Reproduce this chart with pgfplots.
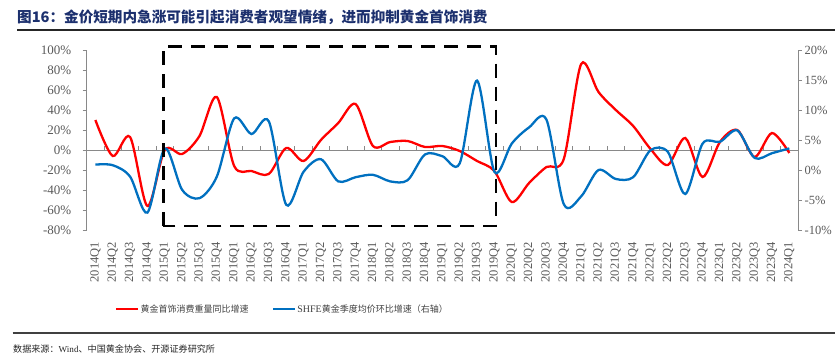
\documentclass[border=0pt]{standalone}
\usepackage{pgfplots}
\usepackage{pgfplotstable}
\pgfplotsset{compat=1.18}
\usepackage{fontspec}
\setmainfont{Liberation Serif}
\newfontfamily\cjk{Noto Sans CJK SC}
\definecolor{myred}{RGB}{255,0,0}
\definecolor{myblue}{RGB}{0,112,192}
\definecolor{navy}{RGB}{28,48,110}
\definecolor{tickgray}{RGB}{89,89,89}
\definecolor{axgray}{RGB}{137,137,137}

\pgfplotstableread{
k red blue
0 30 0.9
1 -6 0.8
2 13 -1.1
3 -56 -7.1
4 0 3.6
5 -4 -3.3
6 14 -4.7
7 53 -1.1
8 -16 8.6
9 -21 6.0
10 -24 8.1
11 2 -5.8
12 -11 -0.3
13 10 1.8
14 27 -1.9
15 46 -1.2
16 4 -0.8
17 8 -1.9
18 9 -1.7
19 3 2.6
20 4 2.3
21 -1 1.1
22 -11 14.9
23 -21 -0.3
24 -52 4.4
25 -33 7.1
26 -17 8.4
27 -9 -5.7
28 86 -4.4
29 58 0.0
30 40 -1.5
31 24 -1.2
32 1 3.3
33 -15 3.0
34 12 -4.0
35 -27 4.4
36 8 4.7
37 20 6.6
38 -7 2.0
39 17 2.8
40 -3 3.6
}\data

\begin{document}
\begin{tikzpicture}
\pgfplotsset{
  base/.style={
    at={(86.7bp,129bp)}, anchor=south west, scale only axis,
    width=711.3bp, height=180bp,
    xmin=-0.5, xmax=40.5, clip=false,
    /pgf/number format/assume math mode=true,
    tick align=outside, major tick length=4bp,
    every tick/.style={axgray, line width=0.8bp},
  }
}
\begin{axis}[base,
  ymin=-80, ymax=100,
  axis y line*=left,
  axis x line*=bottom,
  x axis line style={draw=none},
  y axis line style={axgray, line width=0.8bp},
  ytick={-80,-60,...,100},
  yticklabel={\pgfmathprintnumber{\tick}\%},
  yticklabel style={text=tickgray, font=\fontsize{13bp}{15bp}\selectfont, xshift=-8bp},
  xtick={0,...,40},
  xtick style={draw=none},
  xticklabels={2014Q1,2014Q2,2014Q3,2014Q4,2015Q1,2015Q2,2015Q3,2015Q4,2016Q1,2016Q2,2016Q3,2016Q4,2017Q1,2017Q2,2017Q3,2017Q4,2018Q1,2018Q2,2018Q3,2018Q4,2019Q1,2019Q2,2019Q3,2019Q4,2020Q1,2020Q2,2020Q3,2020Q4,2021Q1,2021Q2,2021Q3,2021Q4,2022Q1,2022Q2,2022Q3,2022Q4,2023Q1,2023Q2,2023Q3,2023Q4,2024Q1},
  xticklabel style={rotate=90, anchor=east, inner sep=0pt, text=tickgray, font=\fontsize{12.5bp}{14bp}\selectfont},
  xticklabel shift=8bp,
  legend columns=2,
  legend style={at={(0.0398,-0.439)}, anchor=west, draw=none, fill=none, inner sep=0pt,
    font=\cjk\fontsize{9bp}{11bp}\selectfont, text=black!75,
    nodes={inner sep=1.2bp},
    /tikz/every even column/.append style={column sep=22bp}},
  legend image code/.code={\draw[#1] (0bp,0bp) -- (22bp,0bp);},
]
\draw[axgray, line width=0.8bp] (axis cs:-0.5,0) -- (axis cs:40.5,0);
\pgfplotsinvokeforeach{0.5,1.5,...,39.5}{\draw[axgray, line width=0.8bp] (axis cs:#1,0) -- ++(0pt,3.5bp);}
\addplot[myred, line width=2.3bp, smooth, tension=0.5] table[x=k, y=red] {\data};
\addlegendentry{黄金首饰消费重量同比增速}
\addlegendimage{myblue, line width=2.3bp}
\addlegendentry{{\rmfamily\fontsize{10bp}{11bp}\selectfont SHFE}黄金季度均价环比增速（右轴）}
\end{axis}
\begin{axis}[base,
  ymin=-10, ymax=20,
  axis y line*=right,
  axis x line=none,
  y axis line style={axgray, line width=0.8bp},
  ytick={-10,-5,...,20},
  yticklabel={\pgfmathprintnumber{\tick}\%},
  yticklabel style={text=tickgray, font=\fontsize{12.5bp}{15bp}\selectfont, inner sep=1.5bp, xshift=1bp},
]
\addplot[myblue, line width=2.3bp, smooth, tension=0.5] table[x=k, y=blue] {\data};
\draw[black, line width=2.4bp, dash pattern=on 14bp off 9bp] (axis cs:3.92,-9.33) rectangle (axis cs:23.1,20.55);
\end{axis}
% title
\node[anchor=base west, inner sep=0pt, text=navy, font=\cjk\bfseries\fontsize{14.6bp}{16bp}\selectfont] at (17bp,336.5bp) {图16：金价短期内急涨可能引起消费者观望情绪，进而抑制黄金首饰消费};
\draw[black!85, line width=1.2bp] (17bp,329bp) -- (835bp,329bp);
\draw[black!75, line width=1.2bp] (12.7bp,26bp) -- (835bp,26bp);
\node[anchor=base west, inner sep=0pt, text=black!85, font=\fontsize{9.1bp}{12bp}\selectfont] at (13bp,7bp) {{\cjk 数据来源：}Wind{\cjk 、中国黄金协会、开源证券研究所}};
\pgfresetboundingbox
\path[use as bounding box] (0,0) rectangle (835bp,359bp);
\end{tikzpicture}
\end{document}
